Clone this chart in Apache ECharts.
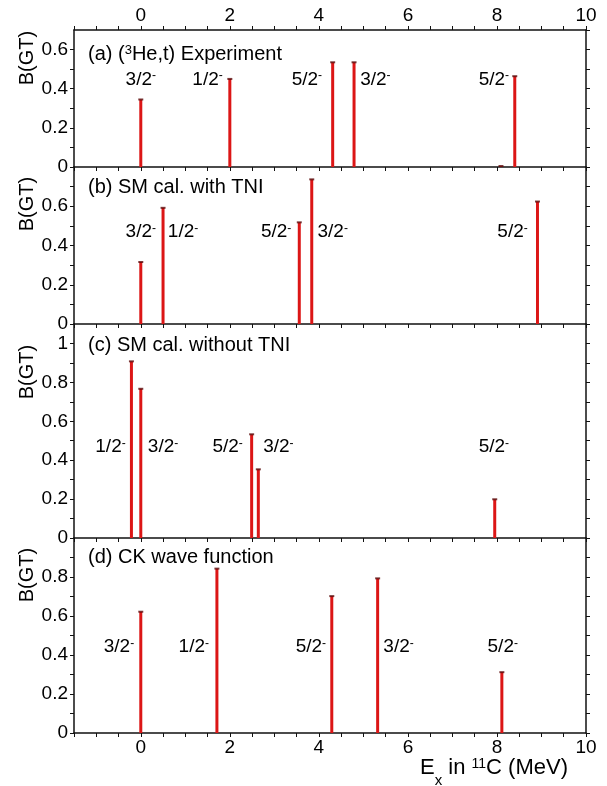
<!DOCTYPE html>
<html><head><meta charset="utf-8">
<script src="https://cdn.jsdelivr.net/npm/echarts@6/dist/echarts.min.js"></script>
<style>html,body{margin:0;padding:0;background:#fff}#c{width:607px;height:786px}</style>
</head><body><div id="c"></div><script>
// ---- data ----
const panelTitles = ['(a) ({sup|3}He,t) Experiment', '(b) SM cal. with TNI', '(c) SM cal. without TNI', '(d) CK wave function'];
const yMaxes = [0.7, 0.8, 1.1, 1.0];
// (a) (3He,t) experiment
const expEx = [0.00, 2.00, 4.31, 4.79, 8.09, 8.40];
const expBGT = [0.345, 0.450, 0.535, 0.535, 0.005, 0.464];
const expLabelEx = [0.00, 1.50, 3.73, 5.27, 7.93];
const expLabels = ['3/2', '1/2', '5/2', '3/2', '5/2'];
// (b) SM with TNI
const tniEx = [0.00, 0.50, 3.56, 3.84, 8.91];
const tniBGT = [0.316, 0.592, 0.518, 0.737, 0.624];
const tniLabelEx = [0.00, 0.95, 3.04, 4.31, 8.35];
const tniLabels = ['3/2', '1/2', '5/2', '3/2', '5/2'];
// (c) SM without TNI
const noTniEx = [-0.21, 0.00, 2.49, 2.64, 7.95];
const noTniBGT = [0.908, 0.767, 0.533, 0.353, 0.199];
const noTniLabelEx = [-0.68, 0.50, 1.95, 3.09, 7.93];
const noTniLabels = ['1/2', '3/2', '5/2', '3/2', '5/2'];
// (d) CK wave function
const ckEx = [0.00, 1.71, 4.29, 5.32, 8.11];
const ckBGT = [0.622, 0.843, 0.702, 0.793, 0.312];
const ckLabelEx = [-0.49, 1.19, 3.82, 5.79, 8.13];
const ckLabels = ['3/2', '1/2', '5/2', '3/2', '5/2'];
const labelLevels = [0.447, 0.469, 0.468, 0.442];

// ---- build ----
const FONT = '"Liberation Sans", Arial, Helvetica, sans-serif';
const panels = [
  [expEx, expBGT, expLabelEx, expLabels],
  [tniEx, tniBGT, tniLabelEx, tniLabels],
  [noTniEx, noTniBGT, noTniLabelEx, noTniLabels],
  [ckEx, ckBGT, ckLabelEx, ckLabels]
];
const gridLayout = [
  {top: 30, height: 137},
  {top: 167, height: 157},
  {top: 324, height: 214},
  {top: 538, height: 195}
];
const titleY = [54, 187, 345, 557];
const yNameY = [58, 204, 372, 575];

const black = '#000';
const lineStyle = {color: '#111', width: 1.5};
const tickStyle = {show: true, inside: false, length: 4, lineStyle: {color: '#111', width: 1}};

const xFmt = v => { const r = Math.round(v * 2) / 2; return Math.abs(r % 2) < 1e-9 ? String(r) : ''; };

const grid = gridLayout.map(g => ({left: 74, right: 21, top: g.top, height: g.height, containLabel: false}));

const xAxis = [];
function mkX(gi, pos, showLabel) {
  return {
    type: 'value', gridIndex: gi, position: pos, min: -1.5, max: 10, interval: 0.5,
    axisLine: {show: true, onZero: false, lineStyle},
    axisTick: tickStyle, splitLine: {show: false},
    axisLabel: {show: showLabel, formatter: xFmt, fontFamily: FONT, fontSize: 19, color: black, margin: 5,
      showMinLabel: true, showMaxLabel: true, hideOverlap: false}
  };
}
xAxis.push(mkX(0, 'bottom', false)); // 0
xAxis.push(mkX(0, 'top', true));     // 1
xAxis.push(mkX(1, 'bottom', false)); // 2
xAxis.push(mkX(2, 'bottom', false)); // 3
xAxis.push(mkX(3, 'bottom', true));  // 4
const xIdx = [0, 2, 3, 4];

const yAxis = [];
gridLayout.forEach((g, gi) => {
  const mx = yMaxes[gi];
  const yFmt = v => { if (v > mx - 1e-9) return ''; const k = Math.round(v * 10); return k % 2 === 0 ? String(k / 10) : ''; };
  ['left', 'right'].forEach(pos => {
    yAxis.push({
      type: 'value', gridIndex: gi, position: pos, min: 0, max: mx, interval: 0.1,
      axisLine: {show: true, onZero: false, lineStyle}, axisTick: tickStyle, splitLine: {show: false},
      axisLabel: {show: pos === 'left', formatter: yFmt, fontFamily: FONT, fontSize: 19, color: black, margin: 6, showMaxLabel: false}
    });
  });
});

const series = [];
panels.forEach((p, gi) => {
  const [ex, b, lx, lt] = p;
  const pts = ex.map((x, i) => [x, b[i]]);
  series.push({
    type: 'bar', xAxisIndex: xIdx[gi], yAxisIndex: gi * 2, data: pts, barWidth: 3,
    itemStyle: {color: '#dc1616'}, silent: true
  });
  series.push({
    type: 'scatter', xAxisIndex: xIdx[gi], yAxisIndex: gi * 2, data: pts, symbol: 'rect', symbolSize: [5, 2],
    itemStyle: {color: '#5a0a0a'}, z: 5, silent: true
  });
  series.push({
    type: 'scatter', xAxisIndex: xIdx[gi], yAxisIndex: gi * 2,
    data: lx.map((x, i) => ({name: lt[i], value: [x, labelLevels[gi]]})),
    symbolSize: 2, itemStyle: {color: 'rgba(0,0,0,0)'}, silent: true, z: 6,
    label: {show: true, position: 'inside', color: black, opacity: 1, textBorderWidth: 0,
      formatter: d => '{n|' + d.name + '}{s|-}',
      rich: {
        n: {fontFamily: FONT, fontSize: 19, color: black, textBorderWidth: 0},
        s: {fontFamily: FONT, fontSize: 12, color: black, textBorderWidth: 0, verticalAlign: 'top', lineHeight: 10}
      }}
  });
});

const graphic = [];
panelTitles.forEach((t, i) => {
  graphic.push({type: 'text', x: 88, y: titleY[i], silent: true, style: {
    text: t, font: '20px ' + FONT, fill: black, verticalAlign: 'middle', align: 'left',
    rich: {sup: {fontFamily: FONT, fontSize: 13, fill: black, verticalAlign: 'top', lineHeight: 14}}
  }});
  graphic.push({type: 'text', x: 27, y: yNameY[i], rotation: Math.PI / 2, silent: true, style: {
    text: 'B(GT)', font: '20px ' + FONT, fill: black, align: 'center', verticalAlign: 'middle'
  }});
});
graphic.push({type: 'text', x: 568, y: 757, silent: true, style: {
  text: '{m|E}{sub|x}{m| in }{sup|11}{m|C (MeV)}', font: '22px ' + FONT, fill: black, align: 'right', verticalAlign: 'top',
  rich: {
    m: {fontFamily: FONT, fontSize: 22, fill: black, verticalAlign: 'top', lineHeight: 22},
    sub: {fontFamily: FONT, fontSize: 15, fill: black, verticalAlign: 'bottom', lineHeight: 31},
    sup: {fontFamily: FONT, fontSize: 14, fill: black, verticalAlign: 'top', lineHeight: 20}
  }
}});

const chart = echarts.init(document.getElementById('c'), null, {renderer: 'canvas'});
chart.setOption({animation: false, backgroundColor: '#fff', grid, xAxis, yAxis, series, graphic});
</script></body></html>
